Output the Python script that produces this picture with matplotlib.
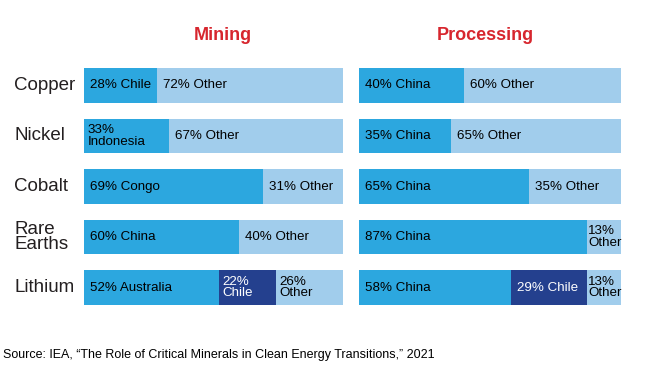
import matplotlib.pyplot as plt

plt.rcParams['font.family'] = ['Liberation Sans', 'DejaVu Sans']

minerals = ["Copper", "Nickel", "Cobalt", "Rare\nEarths", "Lithium"]

# mining shares (%)
mining_lead = [28, 33, 69, 60, 52]
mining_lead_name = ["Chile", "Indonesia", "Congo", "China", "Australia"]
mining_second = [0, 0, 0, 0, 22]
mining_second_name = ["", "", "", "", "Chile"]
mining_other = [72, 67, 31, 40, 26]

# processing shares (%)
processing_lead = [40, 35, 65, 87, 58]
processing_lead_name = ["China", "China", "China", "China", "China"]
processing_second = [0, 0, 0, 0, 29]
processing_second_name = ["", "", "", "", "Chile"]
processing_other = [60, 65, 35, 13, 13]

# labels that break onto two lines (panel, segment, row)
wrapped = {("mining", 0, 1), ("mining", 1, 4), ("mining", 2, 4),
           ("processing", 2, 3), ("processing", 2, 4)}

c_lead = '#2ca7df'
c_second = '#24408e'
c_other = '#a1cdec'
c_title = '#d7262e'
c_text = '#231f20'

W, H = 645, 375
fig = plt.figure(figsize=(W / 100, H / 100), dpi=100)


def px_axes(x0, x1, y0, y1):
    return fig.add_axes([x0 / W, 1 - y1 / H, (x1 - x0) / W, (y1 - y0) / H])


def draw_panel(ax, key, lead, lead_name, second, second_name, other):
    rows = range(len(lead))
    ax.barh(rows, lead, height=0.69, color=c_lead, left=0)
    ax.barh(rows, second, height=0.69, color=c_second, left=lead)
    left_other = [a + b for a, b in zip(lead, second)]
    ax.barh(rows, other, height=0.69, color=c_other, left=left_other)
    for i in rows:
        segs = [(0, lead[i], lead_name[i], 'black'),
                (lead[i], second[i], second_name[i], 'white'),
                (left_other[i], other[i], "Other", 'black')]
        for j, (start, val, name, col) in enumerate(segs):
            if val == 0:
                continue
            sep = "\n" if (key, j, i) in wrapped else " "
            pad = 1 if val < 15 else (4 if sep == "\n" else 6)
            ax.annotate("%d%%%s%s" % (val, sep, name), (start, i),
                        xytext=(pad * 0.72, 0), textcoords='offset points',
                        ha='left', va='center', fontsize=9.6, color=col,
                        linespacing=0.95)
    ax.set_xlim(0, 100)
    ax.set_ylim(len(lead) - 1 + 0.345, -0.345)
    ax.axis('off')


ax1 = px_axes(84, 343, 68, 305)
draw_panel(ax1, "mining", mining_lead, mining_lead_name, mining_second,
           mining_second_name, mining_other)
ax2 = px_axes(359, 621, 68, 305)
draw_panel(ax2, "processing", processing_lead, processing_lead_name,
           processing_second, processing_second_name, processing_other)

for i, m in enumerate(minerals):
    ax1.annotate(m, (0, i), xycoords=('figure pixels', 'data'),
                 xytext=(14 * 0.72, 0), textcoords='offset points',
                 ha='left', va='center', fontsize=13.5, color=c_text,
                 linespacing=0.9, annotation_clip=False)

fig.text(223 / W, 1 - 36 / H, "Mining", ha='center', va='center',
         fontsize=13, fontweight='bold', color=c_title)
fig.text(485 / W, 1 - 36 / H, "Processing", ha='center', va='center',
         fontsize=13, fontweight='bold', color=c_title)
fig.text(3 / W, 1 - 355 / H,
         "Source: IEA, \u201cThe Role of Critical Minerals in Clean Energy Transitions,\u201d 2021",
         ha='left', va='center', fontsize=9, color='black')

fig.savefig('out.png', dpi=100)
